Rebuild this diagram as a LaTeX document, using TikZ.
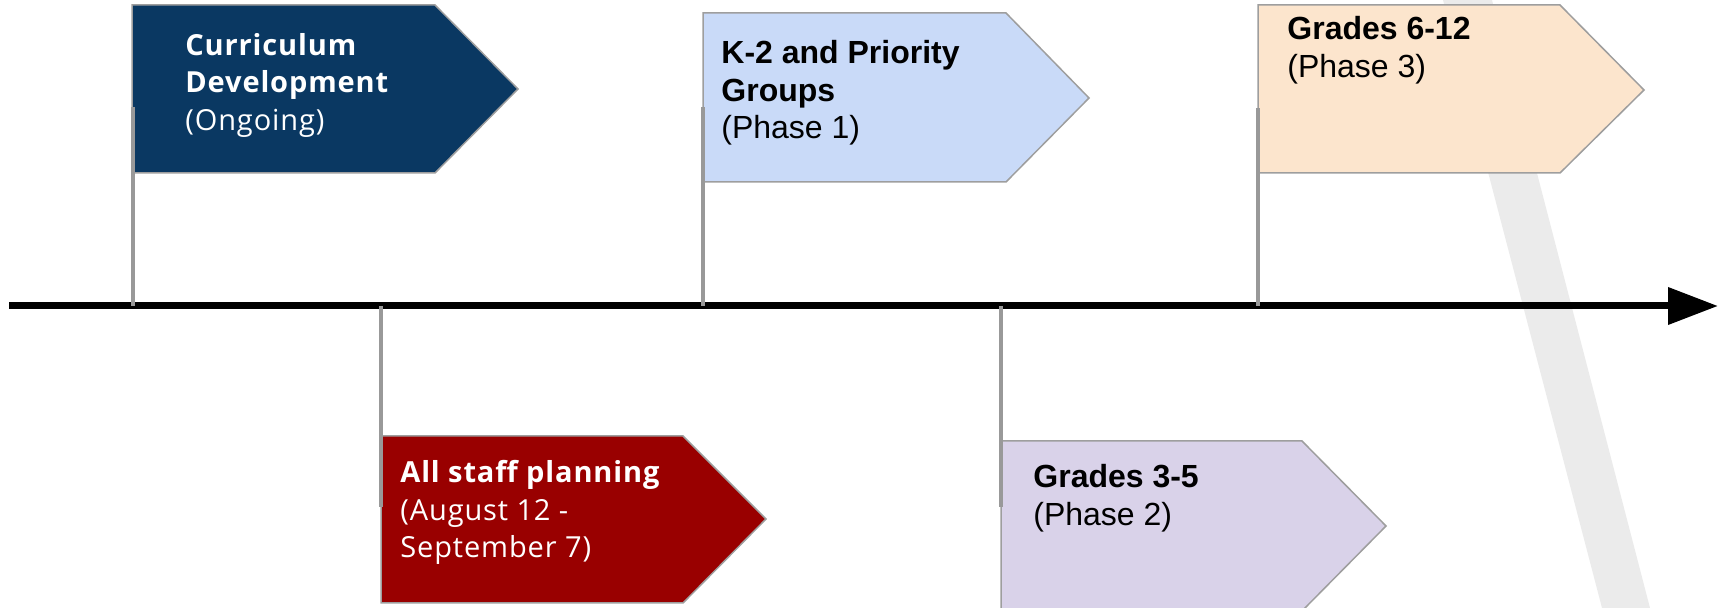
\documentclass[tikz,border=0pt]{standalone}
\usepackage{fontspec}
\setmainfont{Liberation Sans}
\newfontfamily\karlafont[LetterSpace=3]{Open Sans}
\usetikzlibrary{arrows.meta}

\definecolor{navyflag}{HTML}{0A3862}
\definecolor{redflag}{HTML}{990000}
\definecolor{blueflag}{HTML}{C9DAF8}
\definecolor{peachflag}{HTML}{FCE5CD}
\definecolor{lilacflag}{HTML}{D9D2E9}
\definecolor{flagedge}{HTML}{9E9E9E}
\definecolor{poleg}{HTML}{999999}
\definecolor{bandg}{HTML}{EBEBEB}

\begin{document}
\begin{tikzpicture}[x=0.5pt,y=-0.5pt,
    flag/.style={draw=flagedge, line width=0.75pt},
    pole/.style={draw=poleg, line width=1.6pt},
    arial/.style={font=\fontsize{16}{18.75}\selectfont, align=left, inner sep=0pt, anchor=north west},
    karla/.style={font=\karlafont\fontsize{14.5}{18.75}\selectfont, align=left, inner sep=0pt, anchor=north west, text=white}]
    \useasboundingbox (0,0) rectangle (1725,608);

    % Light gray band in the background
    \fill[bandg] (1443,0) -- (1492,0) -- (1650,608) -- (1602,608) -- cycle;

    % Timeline axis
    \coordinate (start) at (9,306);
    \coordinate (end) at (1718,306);
    \draw[line width=3.5pt, -{Triangle[length=25pt,width=18pt]}] (start) -- (end);

    % Flags above the axis
    \filldraw[flag, fill=navyflag] (132,5) -- (435,5) -- (518,89) -- (435,173) -- (132,173) -- cycle;
    \filldraw[flag, fill=blueflag] (703,13) -- (1006,13) -- (1089,98) -- (1006,182) -- (703,182) -- cycle;
    \filldraw[flag, fill=peachflag] (1258,5) -- (1560,5) -- (1644,90) -- (1560,173) -- (1258,173) -- cycle;

    % Flags below the axis
    \filldraw[flag, fill=redflag] (381,436) -- (683,436) -- (766,519) -- (683,603) -- (381,603) -- cycle;
    \filldraw[flag, fill=lilacflag] (1001,441) -- (1302,441) -- (1386,526) -- (1302,611) -- (1001,611) -- cycle;

    % Poles from the axis to the flags
    \coordinate (t1) at (133,306);  \coordinate (f1) at (133,107);
    \coordinate (t2) at (703,306);  \coordinate (f2) at (703,107);
    \coordinate (t3) at (1258,306); \coordinate (f3) at (1258,108);
    \coordinate (t4) at (381,306);  \coordinate (f4) at (381,507);
    \coordinate (t5) at (1001,306); \coordinate (f5) at (1001,507);
    \draw[pole] (t1) -- (f1);
    \draw[pole] (t2) -- (f2);
    \draw[pole] (t3) -- (f3);
    \draw[pole] (t4) -- (f4);
    \draw[pole] (t5) -- (f5);

    % Labels
    \node[karla] (curric) at (185,33) {\textbf{Curriculum}\\\textbf{Development}\\(Ongoing)};
    \node[arial] (kprio) at (721,40) {\textbf{K-2 and Priority}\\\textbf{Groups}\\(Phase 1)};
    \node[arial] (gr612) at (1287,16) {\textbf{Grades 6-12}\\(Phase 3)};
    \node[karla] (staff) at (400,460) {\textbf{All staff planning}\\(August 12 -\\September 7)};
    \node[arial] (gr35) at (1033,464) {\textbf{Grades 3-5}\\(Phase 2)};
\end{tikzpicture}
\end{document}
